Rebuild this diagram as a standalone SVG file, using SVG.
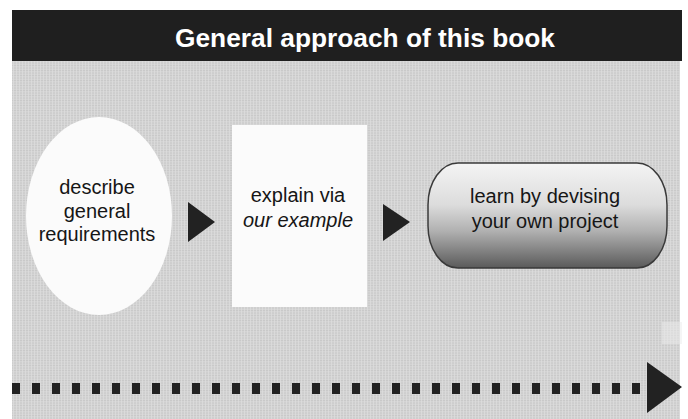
<svg xmlns="http://www.w3.org/2000/svg" width="688" height="419" viewBox="0 0 688 419">
  <style>
    .label { font-family: "Liberation Sans", Arial, Helvetica, sans-serif; font-size: 20px; fill: #161616; text-anchor: middle; }
    .title { font-family: "Liberation Sans", Arial, Helvetica, sans-serif; font-size: 25px; font-weight: bold; fill: #ffffff; text-anchor: middle; }
    .head { fill: #222222; }
  </style>
  <defs>
    <!-- fine paper grain for the grey panel -->
    <pattern id="grain" width="6" height="5" patternUnits="userSpaceOnUse">
      <rect width="6" height="5" fill="#d4d4d4"/>
      <path d="M0 0.5H6M0 3H6" stroke="#c6c6c6" stroke-width="0.8"/>
      <path d="M1.5 0V5M4.5 0V5" stroke="#dedede" stroke-width="0.7"/>
    </pattern>
    <linearGradient id="pillShade" x1="0" y1="0" x2="0" y2="1">
      <stop offset="0" stop-color="#f4f4f4"/>
      <stop offset="0.4" stop-color="#dcdcdc"/>
      <stop offset="0.65" stop-color="#b0b0b0"/>
      <stop offset="1" stop-color="#5a5a5a"/>
    </linearGradient>
  </defs>

  <rect width="688" height="419" fill="#ffffff"/>

  <!-- grey panel -->
  <rect x="12" y="60" width="668" height="359" fill="url(#grain)"/>
  <rect x="662" y="322" width="20" height="22" fill="#ececec" opacity="0.5"/>

  <!-- header band -->
  <g id="header">
    <rect x="12" y="10" width="670" height="51" fill="#1f1f1f"/>
    <text class="title" x="365" y="47" textLength="380" lengthAdjust="spacingAndGlyphs">General approach of this book</text>
  </g>

  <g id="node-describe">
    <ellipse cx="99" cy="216" rx="73" ry="99" fill="#fbfbfb"/>
    <text class="label" x="97" y="194">describe</text>
    <text class="label" x="97" y="218">general</text>
    <text class="label" x="97" y="241">requirements</text>
  </g>

  <g id="node-explain">
    <rect x="232" y="125" width="135" height="182" fill="#fbfbfb"/>
    <text class="label" x="298" y="202">explain via</text>
    <text class="label" x="298" y="227" font-style="italic">our example</text>
  </g>

  <g id="node-learn">
    <rect x="428" y="163" width="239" height="105" rx="30" ry="42" fill="url(#pillShade)" stroke="#3a3a3a" stroke-width="1.5"/>
    <text class="label" x="545" y="203">learn by devising</text>
    <text class="label" x="545" y="228">your own project</text>
  </g>

  <g id="connectors">
    <polygon class="head" points="188,202 188,242 215,222"/>
    <polygon class="head" points="383,204 383,241 410,222"/>
    <!-- dotted timeline with closing arrowhead -->
    <line x1="12" y1="388.5" x2="640" y2="388.5" stroke="#222222" stroke-width="11" stroke-dasharray="8 12"/>
    <polygon class="head" points="647,362 647,413 682,387"/>
  </g>
</svg>
